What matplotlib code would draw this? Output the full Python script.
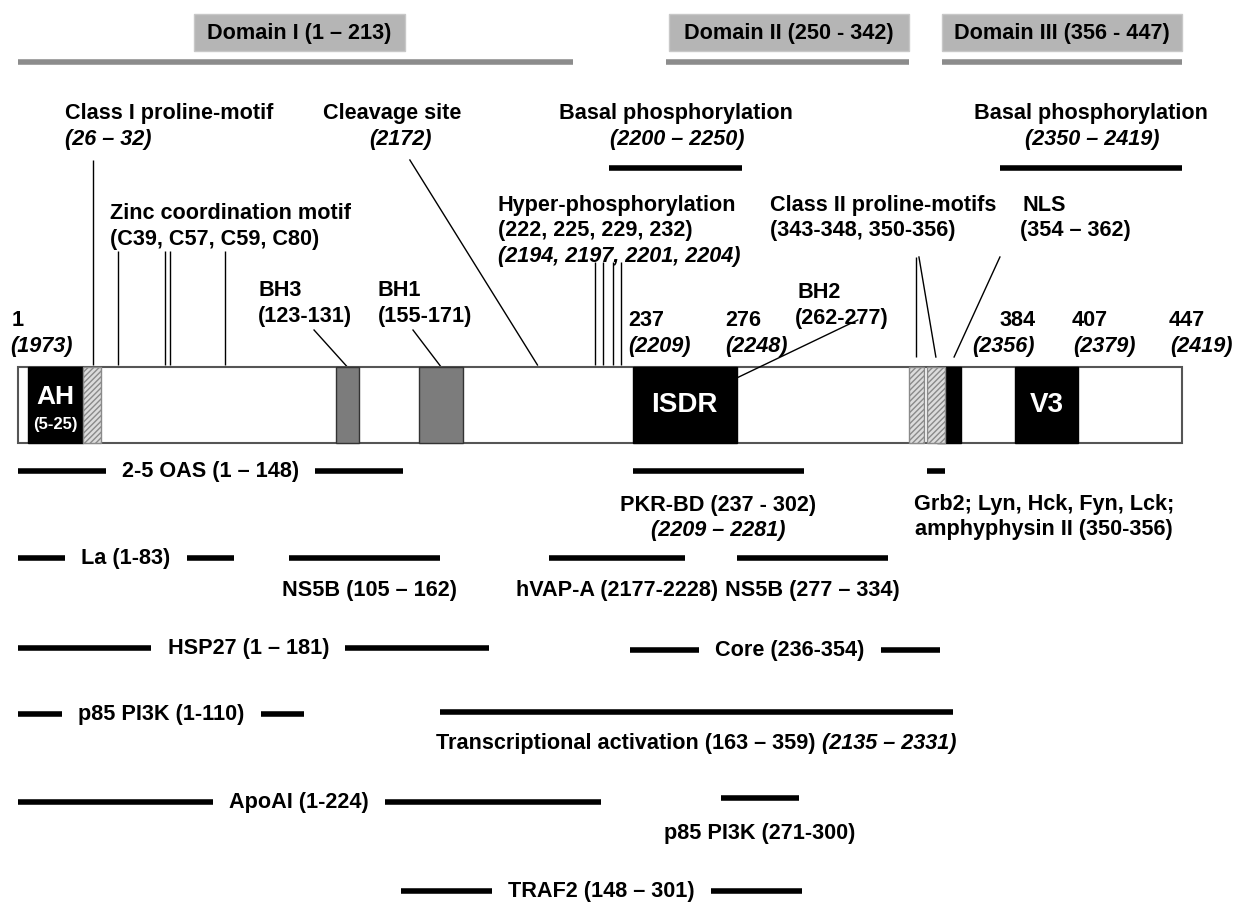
import matplotlib.pyplot as plt
from matplotlib.patches import Rectangle

plt.rcParams['font.family'] = ['Liberation Sans', 'DejaVu Sans']
plt.rcParams['font.weight'] = 'bold'

# NS5A residues 1-447; polyprotein numbering = residue + 1972
protein_len = 447
offset = 1972

domain_labels = ["Domain I (1 – 213)", "Domain II (250 - 342)", "Domain III (356 - 447)"]
domain_start = [1, 250, 356]
domain_end = [213, 342, 447]

# boxes drawn on the protein bar
box_labels = ["AH", "", "BH3", "BH1", "ISDR", "", "", "", "V3"]
box_start = [5, 26, 123, 155, 237, 343, 354, 350, 384]
box_end = [25, 32, 131, 171, 276, 348, 362, 356, 407]
box_kind = ["black", "hatch", "gray", "gray", "black", "hatch", "black", "hatch", "black"]

zinc_sites = [39, 57, 59, 80]
hyper_sites = [222, 225, 229, 232]
cleavage_site = 2172
basal_start = [2200, 2350]
basal_end = [2250, 2419]

# position ticks above the bar
pos_res = [1, 237, 276, 384, 407, 447]
pos_poly = [1973, 2209, 2248, 2356, 2379, 2419]

# interaction partners
int_labels = ["2-5 OAS (1 – 148)", "PKR-BD (237 - 302)", "Grb2; Lyn, Hck, Fyn, Lck;",
              "La (1-83)", "NS5B (105 – 162)", "hVAP-A (2177-2228)", "NS5B (277 – 334)",
              "HSP27 (1 – 181)", "Core (236-354)", "p85 PI3K (1-110)",
              "Transcriptional activation (163 – 359)", "ApoAI (1-224)", "p85 PI3K (271-300)",
              "TRAF2 (148 – 301)"]
int_second = ["", "(2209 – 2281)", "amphyphysin II (350-356)", "", "", "", "", "", "", "",
              "(2135 – 2331)", "", "", ""]
int_start = [1, 237, 350, 1, 105, 2177 - offset, 277, 1, 236, 1, 163, 1, 271, 148]
int_end = [148, 302, 356, 83, 162, 2228 - offset, 334, 181, 354, 110, 359, 224, 300, 301]

# layout
row_y = [471, 471, 471, 558, 558, 558, 558, 648, 650, 714, 712, 802, 798, 891]
label_mode = ["inline", "below", "below", "inline", "below", "below", "below",
              "inline", "inline", "inline", "below_mixed", "inline", "below", "inline"]
label_dy = [0, 34, 33, 0, 32, 32, 32, 0, 0, 0, 31, 0, 35, 0]
label_dx = [0, 0, 41.5, 0, 2, 0, 0, -2, 2, 0, 0, -4, 0, 0]
fs = 15.6

fig = plt.figure(figsize=(12.46, 9.05), dpi=100)
ax = fig.add_axes([0, 0, 1, 1])
ax.set_xlim(-6.4, 472.1)
ax.set_ylim(905, 0)
ax.axis('off')

# domains
box_span = [(68, 149), (250.5, 342.5), (355.5, 447.5)]
for lab, s, e, (b0, b1) in zip(domain_labels, domain_start, domain_end, box_span):
    ax.add_patch(Rectangle((b0, 14), b1 - b0, 37, fc='#b5b5b5', ec='#c8c8c8', lw=1))
    ax.text((b0 + b1) / 2, 33, lab, ha='center', va='center', fontsize=fs)
    ax.hlines(62, s - 0.5, e + 0.5, color='#8c8c8c', lw=4)

# protein bar
bar_top, bar_h = 367, 76
ax.add_patch(Rectangle((0.5, bar_top), protein_len, bar_h, fc='white', ec='#555555', lw=1.5, zorder=5))
for lab, s, e, kind in zip(box_labels, box_start, box_end, box_kind):
    if kind == "black":
        r = Rectangle((s - 0.5, bar_top), e - s + 1, bar_h, fc='black', ec='black', lw=1, zorder=6)
    elif kind == "gray":
        r = Rectangle((s - 0.5, bar_top), e - s + 1, bar_h, fc='#7c7c7c', ec='#333333', lw=1, zorder=6)
    else:
        r = Rectangle((s - 0.5, bar_top), e - s + 1, bar_h, fc='#dcdcdc', ec='#8a8a8a', lw=1,
                      hatch='//////', zorder=6)
    ax.add_patch(r)
    if lab in ("ISDR", "V3"):
        ax.text((s + e) / 2, 405, lab, color='white', ha='center', va='center', fontsize=20, zorder=7)
ax.text((box_start[0] + box_end[0]) / 2, 397, "AH", color='white', ha='center', va='center', fontsize=19, zorder=7)
ax.text((box_start[0] + box_end[0]) / 2, 424, "(5-25)", color='white', ha='center', va='center', fontsize=12, zorder=7)

# top annotations
ax.text(18.5, 113, "Class I proline-motif", ha='left', va='center', fontsize=fs)
ax.text(18.5, 140, "(26 – 32)", ha='left', va='center', fontsize=fs, style='italic')
ax.vlines(29.5, 160, 365, color='black', lw=1)

ax.text(117.6, 113, "Cleavage site", ha='left', va='center', fontsize=fs)
ax.text(159.5, 140, f"({cleavage_site})", ha='right', va='center', fontsize=fs, style='italic')
ax.plot([151, cleavage_site - offset], [160, 365], color='black', lw=1)

for s, e in zip(basal_start, basal_end):
    rs, re = s - offset, e - offset
    ax.hlines(168, rs - 0.5, re + 0.5, color='black', lw=4)
    ax.text((rs + re) / 2, 113, "Basal phosphorylation", ha='center', va='center', fontsize=fs)
    ax.text((rs + re) / 2 + 0.5, 140, f"({s} – {e})", ha='center', va='center', fontsize=fs, style='italic')

ax.text(35.8, 213, "Zinc coordination motif", ha='left', va='center', fontsize=fs)
ax.text(35.8, 239, "(C39, C57, C59, C80)", ha='left', va='center', fontsize=fs)
ax.vlines(zinc_sites, 251, 365, color='black', lw=1)

ax.text(184.8, 205, "Hyper-phosphorylation", ha='left', va='center', fontsize=fs)
ax.text(184.8, 230, "(" + ", ".join(str(h) for h in hyper_sites) + ")", ha='left', va='center', fontsize=fs)
ax.text(184.8, 256, "(" + ", ".join(str(h + offset) for h in hyper_sites) + ")",
        ha='left', va='center', fontsize=fs, style='italic')
ax.vlines(hyper_sites, 262, 365, color='black', lw=1)

ax.text(289.3, 205, "Class II proline-motifs", ha='left', va='center', fontsize=fs)
ax.text(289.3, 230, "(343-348, 350-356)", ha='left', va='center', fontsize=fs)
ax.vlines(345.5, 257, 357, color='black', lw=1)
ax.plot([346.5, 353], [257, 357], color='black', lw=1)

ax.text(386.1, 205, "NLS", ha='left', va='center', fontsize=fs)
ax.text(385.3, 230, "(354 – 362)", ha='left', va='center', fontsize=fs)
ax.plot([377.6, 360], [257, 357], color='black', lw=1)

ax.text(92.7, 290, "BH3", ha='left', va='center', fontsize=fs)
ax.text(92.7, 316, "(123-131)", ha='left', va='center', fontsize=fs)
ax.plot([114.2, 127], [330, 367], color='black', lw=1)
ax.text(138.7, 290, "BH1", ha='left', va='center', fontsize=fs)
ax.text(138.7, 316, "(155-171)", ha='left', va='center', fontsize=fs)
ax.plot([152.2, 163], [330, 367], color='black', lw=1)
ax.text(299.7, 292, "BH2", ha='left', va='center', fontsize=fs)
ax.text(298.9, 318, "(262-277)", ha='left', va='center', fontsize=fs)
ax.plot([276.5, 323], [378, 320], color='black', lw=1, zorder=8)

# numbers: ha of residue label and polyprotein label
pos_x = [-2.1, 234.8, 272.0, 377.6, 405.2, 442.5]
pos_x2 = [-2.6, 234.8, 272.0, 366.9, 405.6, 442.9]
for r, p, x1, x2 in zip(pos_res, pos_poly, pos_x, pos_x2):
    ax.text(x1, 320, str(r), ha='left', va='center', fontsize=fs)
    ax.text(x2, 346, f"({p})", ha='left', va='center', fontsize=fs, style='italic')

# interactions
fig.canvas.draw()
rend = fig.canvas.get_renderer()
inv = ax.transData.inverted()
for lab, sec, s, e, y, mode, dy, dx in zip(int_labels, int_second, int_start, int_end,
                                           row_y, label_mode, label_dy, label_dx):
    ax.hlines(y, s - 0.5, e + 0.5, color='black', lw=4, zorder=2)
    mid = (s + e) / 2 + dx
    if mode == "inline":
        ax.text(mid, y, lab, ha='center', va='center', fontsize=fs, zorder=3,
                bbox=dict(boxstyle='square,pad=0.75', fc='white', ec='none'))
    elif mode == "below":
        ax.text(mid, y + dy, lab, ha='center', va='center', fontsize=fs)
        if sec:
            style = 'italic' if sec.startswith("(2") else 'normal'
            ax.text(mid, y + dy + 25, sec, ha='center', va='center', fontsize=fs, style=style)
    else:
        t1 = ax.text(0, y + dy, lab, ha='left', va='center', fontsize=fs)
        t2 = ax.text(0, y + dy, sec, ha='left', va='center', fontsize=fs, style='italic')
        w1 = t1.get_window_extent(rend).width
        w2 = t2.get_window_extent(rend).width
        gap = 6
        mid_px = ax.transData.transform((mid, 0))[0]
        left_px = mid_px - (w1 + w2 + gap) / 2
        t1.set_x(inv.transform((left_px, 0))[0])
        t2.set_x(inv.transform((left_px + w1 + gap, 0))[0])

fig.savefig("out.png", dpi=100, facecolor='white')
